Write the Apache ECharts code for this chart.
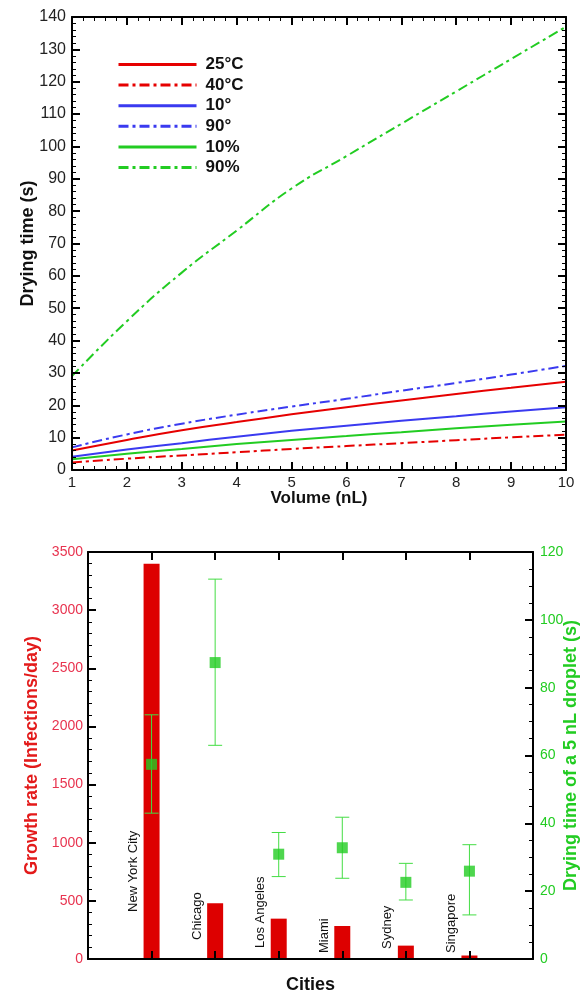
<!DOCTYPE html>
<html><head><meta charset="utf-8">
<script src="https://cdn.jsdelivr.net/npm/echarts@6/dist/echarts.min.js"></script>
<style>html,body{margin:0;padding:0;background:#fff}#c{width:583px;height:996px}</style>
</head><body><div id="c"></div>
<script>
// ---------- data: top chart ----------
const volumes = [1, 2, 3, 4, 5, 6, 7, 8, 9, 10];
const t25C   = [6.0, 9.3, 12.3, 14.8, 17.2, 19.4, 21.5, 23.5, 25.4, 27.3];
const t40C   = [2.3, 3.5, 4.5, 5.5, 6.5, 7.4, 8.3, 9.2, 10.1, 10.9];
const t10deg = [4.1, 6.3, 8.3, 10.3, 12.1, 13.7, 15.2, 16.6, 18.1, 19.4];
const t90deg = [7.0, 11.0, 14.3, 17.1, 19.6, 22.0, 24.5, 26.9, 29.5, 32.2];
const t10pct = [3.3, 5.0, 6.5, 8.0, 9.3, 10.5, 11.7, 12.9, 14.0, 15.0];
const t90pct = [29, 46, 61, 74, 87, 97, 107, 117, 127, 137];
const seriesNames = ['25°C', '40°C', '10°', '90°', '10%', '90%'];

// ---------- data: bottom chart ----------
const cities = ['New York City', 'Chicago', 'Los Angeles', 'Miami', 'Sydney', 'Singapore'];
const growthRate = [3400, 480, 347, 284, 115, 30];
const dryMean = [57.4, 87.4, 30.9, 32.8, 22.6, 25.9];
const dryLow  = [43, 63, 24.3, 23.8, 17.4, 13];
const dryHigh = [72, 112, 37.3, 41.8, 28.2, 33.7];

// ---------- styling ----------
const FONT = 'Liberation Sans, Arial, sans-serif';
const RED = '#e60000', BLUE = '#3a3af0', GREEN = '#22cc22';
const DASHDOT = [10, 4, 3, 4];
const cityLabelLift = [47, 19, 11, 6, 10, 6]; // px above axis for the rotated labels

const pair = (ys) => volumes.map((v, i) => [v, ys[i]]);
const lineSeries = (name, ys, color, dashed) => ({
  type: 'line', name, data: pair(ys), xAxisIndex: 0, yAxisIndex: 0,
  smooth: true, symbol: 'none', showSymbol: false, z: 3,
  lineStyle: { color, width: 2, type: dashed ? DASHDOT : 'solid' },
  itemStyle: { color }
});

function axisBase(extra, minorSplit) {
  const a = {
    axisLine: { show: true, onZero: false, lineStyle: { color: '#000', width: 2 } },
    axisTick: { show: true, inside: true, length: 8, lineStyle: { color: '#000', width: 2 } },
    splitLine: { show: false },
    minorSplitLine: { show: false },
    nameMoveOverlap: false
  };
  if (minorSplit) {
    a.minorTick = { show: true, splitNumber: minorSplit, length: 4, lineStyle: { color: '#000', width: 1 } };
  }
  return Object.assign(a, extra);
}
const plainNum = (v) => String(v);

const chart = echarts.init(document.getElementById('c'), null, { renderer: 'canvas' });
chart.setOption({
  backgroundColor: '#fff',
  animation: false,
  textStyle: { fontFamily: FONT },
  grid: [
    { left: 72, top: 17, right: 17, bottom: 526, outerBoundsMode: 'none', containLabel: false },
    { left: 88, top: 552, right: 50, bottom: 37, outerBoundsMode: 'none', containLabel: false }
  ],
  legend: {
    data: seriesNames,
    orient: 'vertical', left: 112, top: 51,
    itemWidth: 78, itemHeight: 14, itemGap: 3.6,
    itemStyle: { opacity: 0, borderWidth: 0 },
    lineStyle: { width: 3 },
    textStyle: { fontSize: 17, fontWeight: 'bold', color: '#111', lineHeight: 14, padding: [0, 0, 0, 4], fontFamily: FONT },
    selectedMode: false
  },
  xAxis: [
    axisBase({
      gridIndex: 0, type: 'value', min: 1, max: 10, interval: 1, position: 'bottom', z: 5,
      axisLabel: { fontSize: 15, color: '#222', margin: 5, fontFamily: FONT, formatter: plainNum },
      name: 'Volume (nL)', nameLocation: 'middle', nameGap: 20,
      nameTextStyle: { fontSize: 17, fontWeight: 'bold', color: '#111', fontFamily: FONT, verticalAlign: 'top' }
    }, 5),
    axisBase({
      gridIndex: 0, type: 'value', min: 1, max: 10, interval: 1, position: 'top', z: 5,
      axisLabel: { show: false }
    }, 5),
    axisBase({
      gridIndex: 1, type: 'value', min: 0, max: 7, interval: 1, position: 'bottom', z: 5,
      axisLabel: { show: false },
      name: 'Cities', nameLocation: 'middle', nameGap: 17,
      nameTextStyle: { fontSize: 18, fontWeight: 'bold', color: '#111', fontFamily: FONT, verticalAlign: 'top' }
    }, 0),
    axisBase({
      gridIndex: 1, type: 'value', min: 0, max: 7, interval: 1, position: 'top', z: 5,
      axisLabel: { show: false }
    }, 0)
  ],
  yAxis: [
    axisBase({
      gridIndex: 0, type: 'value', min: 0, max: 140, interval: 10, position: 'left', z: 5,
      axisLabel: { fontSize: 16, color: '#222', margin: 6, fontFamily: FONT, formatter: plainNum },
      name: 'Drying time (s)', nameLocation: 'middle', nameGap: 44,
      nameTextStyle: { fontSize: 18, fontWeight: 'bold', color: '#111', fontFamily: FONT, verticalAlign: 'middle' }
    }, 5),
    axisBase({
      gridIndex: 0, type: 'value', min: 0, max: 140, interval: 10, position: 'right', z: 5,
      axisLabel: { show: false }
    }, 5),
    axisBase({
      gridIndex: 1, type: 'value', min: 0, max: 3500, interval: 500, position: 'left', z: 5,
      axisLabel: { fontSize: 14, color: '#e8334f', margin: 5, fontFamily: FONT, formatter: plainNum },
      name: 'Growth rate (Infections/day)', nameLocation: 'middle', nameGap: 56,
      nameTextStyle: { fontSize: 18, fontWeight: 'bold', color: '#e31a1a', fontFamily: FONT, verticalAlign: 'middle' }
    }, 5),
    axisBase({
      gridIndex: 1, type: 'value', min: 0, max: 120, interval: 20, position: 'right', z: 5,
      axisLabel: { fontSize: 14, color: GREEN, margin: 7, fontFamily: FONT, formatter: plainNum },
      name: 'Drying time of a 5 nL droplet (s)', nameLocation: 'middle', nameGap: 38,
      nameTextStyle: { fontSize: 18, fontWeight: 'bold', color: GREEN, fontFamily: FONT, verticalAlign: 'middle' }
    }, 4)
  ],
  series: [
    lineSeries(seriesNames[0], t25C, RED, false),
    lineSeries(seriesNames[1], t40C, RED, true),
    lineSeries(seriesNames[2], t10deg, BLUE, false),
    lineSeries(seriesNames[3], t90deg, BLUE, true),
    lineSeries(seriesNames[4], t10pct, GREEN, false),
    lineSeries(seriesNames[5], t90pct, GREEN, true),
    {
      type: 'bar', name: 'Growth rate', xAxisIndex: 2, yAxisIndex: 2,
      data: growthRate.map((g, i) => [i + 1, g]),
      barWidth: 16, itemStyle: { color: '#dd0000' }, z: 2
    },
    {
      type: 'custom', name: 'City labels', xAxisIndex: 2, yAxisIndex: 2, z: 4,
      data: cities.map((c, i) => [i + 1, 0]),
      renderItem: (params, api) => {
        const i = params.dataIndex;
        const p = api.coord([api.value(0), api.value(1)]);
        return {
          type: 'text', x: p[0] - 18, y: p[1] - cityLabelLift[i], rotation: Math.PI / 2,
          style: { text: cities[i], fill: '#111', font: '13px ' + FONT, align: 'left', verticalAlign: 'middle' }
        };
      }
    },
    {
      type: 'custom', name: 'Error bars', xAxisIndex: 2, yAxisIndex: 3, z: 5,
      data: dryMean.map((m, i) => [i + 1, m, dryLow[i], dryHigh[i]]),
      renderItem: (params, api) => {
        const x = api.value(0);
        const lo = api.coord([x, api.value(2)]);
        const hi = api.coord([x, api.value(3)]);
        const hw = 7;
        const st = { stroke: '#44dd44', lineWidth: 1 };
        return {
          type: 'group', children: [
            { type: 'line', shape: { x1: lo[0], y1: lo[1], x2: hi[0], y2: hi[1] }, style: st },
            { type: 'line', shape: { x1: lo[0] - hw, y1: lo[1], x2: lo[0] + hw, y2: lo[1] }, style: st },
            { type: 'line', shape: { x1: hi[0] - hw, y1: hi[1], x2: hi[0] + hw, y2: hi[1] }, style: st }
          ]
        };
      }
    },
    {
      type: 'scatter', name: 'Drying time', xAxisIndex: 2, yAxisIndex: 3, z: 6,
      data: dryMean.map((m, i) => [i + 1, m]),
      symbol: 'rect', symbolSize: 11, itemStyle: { color: GREEN }
    }
  ]
});
</script></body></html>
